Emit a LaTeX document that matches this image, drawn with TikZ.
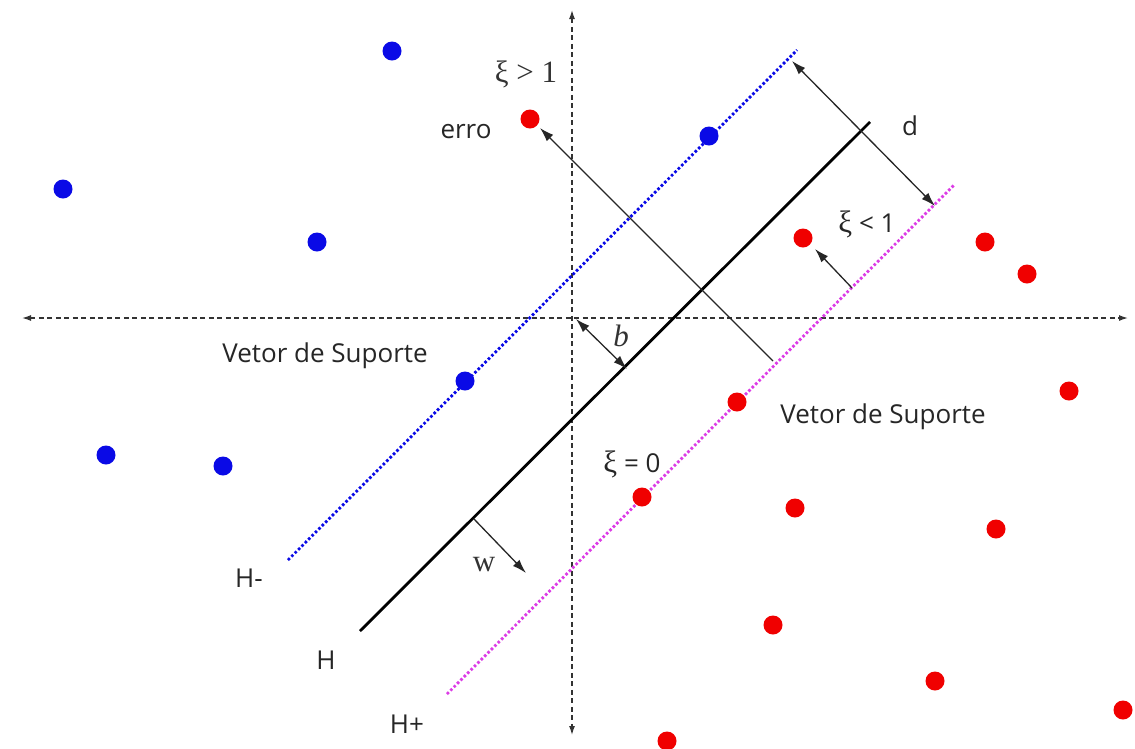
\documentclass[tikz,border=0pt]{standalone}
\usepackage{fontspec}
\setmainfont{Liberation Serif}
\newfontfamily\uisans{Open Sans}
\usetikzlibrary{arrows.meta}
\definecolor{dotblue}{RGB}{10,10,230}
\definecolor{dotred}{RGB}{240,0,0}
\definecolor{hplus}{RGB}{220,60,230}
\tikzset{
  axis/.style={line width=1.3pt, black!80, dash pattern=on 5pt off 3.5pt, {Latex[length=9pt,width=6pt]}-{Latex[length=9pt,width=6pt]}},
  bpt/.style={circle, fill=dotblue, inner sep=0pt, minimum size=19pt},
  rpt/.style={circle, fill=dotred, inner sep=0pt, minimum size=19pt},
  hline/.style={line width=2.8pt, black},
  hminus/.style={dotblue, line width=2.8pt, dash pattern=on 2.6pt off 2.2pt},
  hplusl/.style={hplus, line width=2.8pt, dash pattern=on 2.6pt off 2.2pt},
  arr/.style={line width=1.3pt, black!85, -{Latex[length=14pt,width=9pt]}},
  darr/.style={line width=1.3pt, black!85, {Latex[length=14pt,width=9pt]}-{Latex[length=14pt,width=9pt]}},
  sanslbl/.style={font=\uisans\fontsize{26}{30}\selectfont, text=black!85},
  seriflbl/.style={font=\fontsize{31}{36}\selectfont, text=black!80},
  xi/.style={font=\rmfamily\fontsize{31}{36}\selectfont},
}
\newcommand{\xiglyph}{{\rmfamily\fontsize{31}{36}\selectfont ξ}}
\begin{document}
\begin{tikzpicture}[x=1pt,y=-1pt]
\useasboundingbox (0,0) rectangle (1135,748);
\fill[white] (0,0) rectangle (1135,748);
% axes
\coordinate (xl) at (22,318);
\coordinate (xr) at (1128,318);
\coordinate (yt) at (572,10);
\coordinate (yb) at (572,735);
\draw[axis] (xl) -- (xr);
\draw[axis] (yt) -- (yb);
% hyperplanes
\coordinate (Ha) at (360,631);
\coordinate (Hb) at (870,122);
\coordinate (HMa) at (288,560);
\coordinate (HMb) at (797,50);
\coordinate (HPa) at (447,694);
\coordinate (HPb) at (955,184);
\draw[hminus] (HMa) -- (HMb);
\draw[hplusl] (HPa) -- (HPb);
\draw[hline] (Ha) -- (Hb);
% blue points
\node[bpt] (b1) at (392,51) {};
\node[bpt] (b2) at (63,189) {};
\node[bpt] (b3) at (317,242) {};
\node[bpt] (b4) at (709,136) {};
\node[bpt] (b5) at (465,381) {};
\node[bpt] (b6) at (106,455) {};
\node[bpt] (b7) at (223,466) {};
% red points
\node[rpt] (r1) at (530,119) {};
\node[rpt] (r2) at (803,238) {};
\node[rpt] (r3) at (985,242) {};
\node[rpt] (r4) at (1027,274) {};
\node[rpt] (r5) at (1069,391) {};
\node[rpt] (r6) at (737,402) {};
\node[rpt] (r7) at (642,497) {};
\node[rpt] (r8) at (795,508) {};
\node[rpt] (r9) at (996,529) {};
\node[rpt] (r10) at (773,625) {};
\node[rpt] (r11) at (935,681) {};
\node[rpt] (r12) at (1123,710) {};
\node[rpt] (r13) at (667,741) {};
% arrows
\coordinate (d1) at (792,61);
\coordinate (d2) at (935,206);
\draw[darr] (d1) -- (d2);
\coordinate (e1) at (773,361);
\coordinate (e2) at (540,128);
\draw[arr] (e1) -- (e2);
\coordinate (x1) at (852,288);
\coordinate (x2) at (815,249);
\draw[arr] (x1) -- (x2);
\coordinate (bo) at (576,319);
\coordinate (bh) at (627,369);
\draw[darr] (bo) -- (bh);
\coordinate (w1) at (474,519);
\coordinate (w2) at (526,573);
\draw[arr] (w1) -- (w2);
% labels
\node[seriflbl] (lx1) at (526,74) {ξ > 1};
\node[sanslbl] (lerro) at (466,132) {erro};
\node[sanslbl] (ld) at (910,126) {d};
\node[sanslbl] (lx2) at (867,224) {\xiglyph\ < 1};
\node[seriflbl] (lb) at (621,336) {\itshape b};
\node[sanslbl] (lvs1) at (325,356) {Vetor de Suporte};
\node[sanslbl] (lvs2) at (883,417) {Vetor de Suporte};
\node[sanslbl] (lx3) at (632,464) {\xiglyph\ = 0};
\node[seriflbl] (lw) at (484,565) {w};
\node[sanslbl] (lhm) at (249,578) {H-};
\node[sanslbl] (lh) at (326,660) {H};
\node[sanslbl] (lhp) at (407,724) {H+};
\end{tikzpicture}
\end{document}
